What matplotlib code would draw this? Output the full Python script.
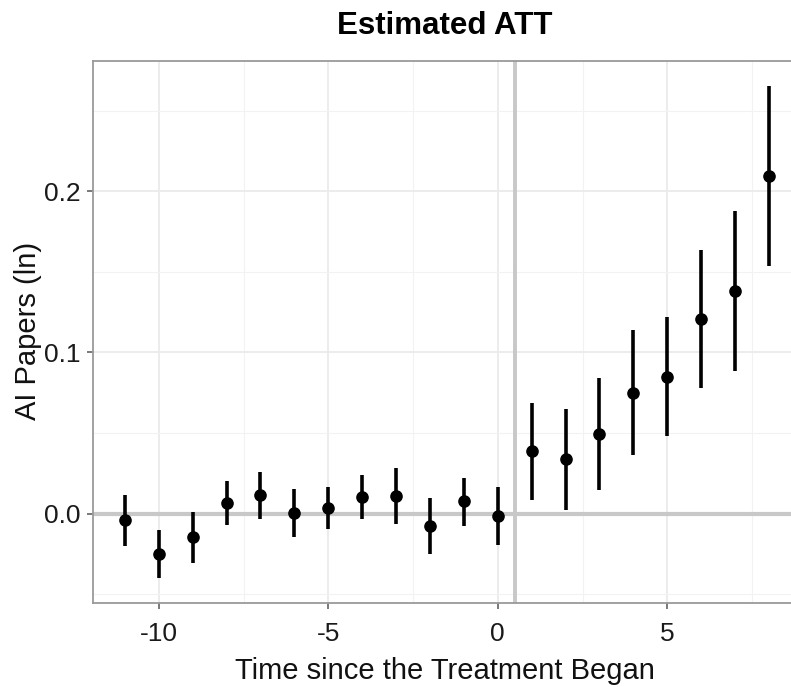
import matplotlib
matplotlib.use("Agg")
import matplotlib.pyplot as plt
import numpy as np

plt.rcParams['font.family'] = ['Liberation Sans', 'DejaVu Sans']

periods = [-11, -10, -9, -8, -7, -6, -5, -4, -3, -2, -1, 0, 1, 2, 3, 4, 5, 6, 7, 8]
att = [-0.004, -0.025, -0.0147, 0.0065, 0.0113, 0.0005, 0.0034, 0.0102, 0.0108, -0.0075,
       0.0077, -0.0015, 0.0387, 0.0336, 0.0494, 0.075, 0.085, 0.1206, 0.1378, 0.2096]
ci_lo = [-0.020, -0.040, -0.0306, -0.0071, -0.0034, -0.0146, -0.0098, -0.0034, -0.0067, -0.0251,
         -0.0075, -0.0195, 0.0085, 0.0022, 0.0146, 0.0362, 0.0482, 0.0779, 0.0882, 0.1534]
ci_hi = [0.0115, -0.0102, 0.0007, 0.0201, 0.0259, 0.0152, 0.0166, 0.0238, 0.028, 0.0094,
         0.0222, 0.0166, 0.0686, 0.0649, 0.0841, 0.1138, 0.1219, 0.1633, 0.1875, 0.2655]
x_ticks = [-10, -5, 0, 5]
x_tick_labels = ["-10", "-5", "0", "5"]
y_ticks = [0.0, 0.1, 0.2]
y_tick_labels = ["0.0", "0.1", "0.2"]

W, H = 791, 687
fig = plt.figure(figsize=(W/100, H/100), dpi=100)
ax = fig.add_axes([92.7/W, 1-602.7/H, 1-92.7/W, (602.7-61)/H])

ax.set_xlim(-11.95, 8.65)
ax.set_ylim(-0.0553, 0.2808)

ax.set_xticks(x_ticks)
ax.set_xticklabels(x_tick_labels)
ax.set_xticks([-7.5, -2.5, 2.5, 7.5], minor=True)
ax.set_yticks(y_ticks)
ax.set_yticklabels(y_tick_labels)
ax.set_yticks([-0.05, 0.05, 0.15, 0.25], minor=True)

ax.grid(which='major', color='#ebebeb', linewidth=1.3, zorder=0)
ax.grid(which='minor', color='#f2f2f2', linewidth=0.8, zorder=0)
ax.set_axisbelow(True)

ax.axhline(0, color='#c8c8c8', linewidth=3.0, zorder=1)
ax.axvline(0.5, color='#c8c8c8', linewidth=2.8, zorder=1)

x = np.array(periods)
y = np.array(att)
lo = np.array(ci_lo)
hi = np.array(ci_hi)
ax.vlines(x, lo, hi, color='black', linewidth=2.6, zorder=3)
ax.scatter(x, y, s=65, color='black', zorder=4)

for side in ['left', 'bottom', 'top']:
    ax.spines[side].set_color('#9a9a9a')
    ax.spines[side].set_linewidth(1.3)
ax.spines['right'].set_visible(False)

ax.tick_params(axis='x', which='major', length=4, width=1.1, color='#555555', labelsize=19, labelcolor='#1a1a1a', pad=10)
ax.tick_params(axis='y', which='major', length=4, width=1.1, color='#555555', labelsize=19, labelcolor='#1a1a1a', pad=5)
ax.tick_params(which='minor', length=0)

fig.text(445/W, 1-679/H, "Time since the Treatment Began", ha='center', va='baseline',
         fontsize=21, color='#111111')
fig.text(28/W, 1-331/H, "AI Papers (ln)", ha='center', va='center', rotation=90,
         fontsize=21, color='#111111')
fig.text(445/W, 1-34/H, "Estimated ATT", ha='center', va='baseline', fontsize=22.5, fontweight='bold')

fig.savefig("out.png", dpi=100)
